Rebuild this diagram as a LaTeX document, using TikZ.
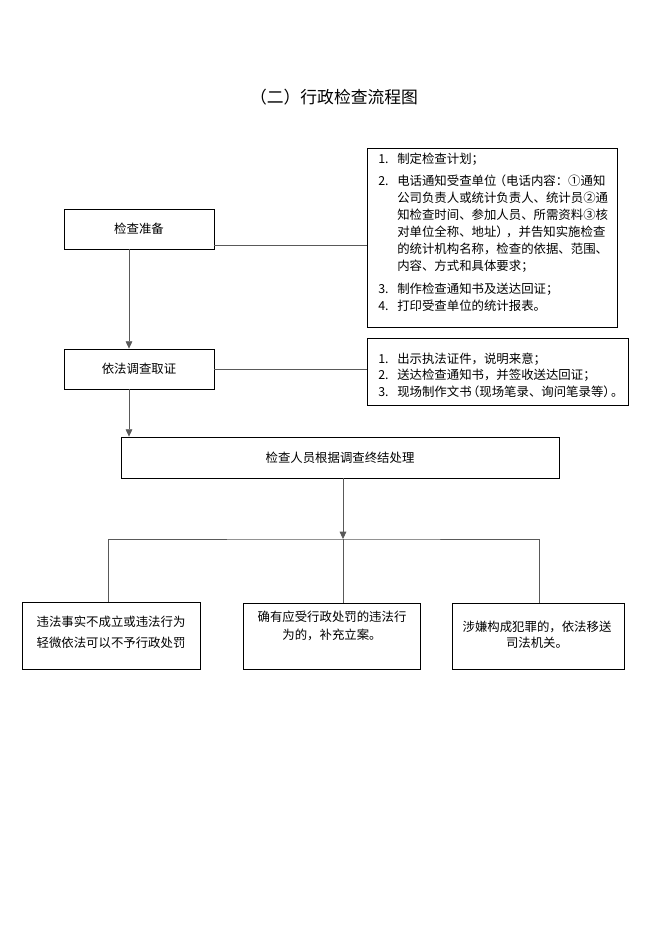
\documentclass[tikz,border=0pt]{standalone}
\usepackage{fontspec}
\setmainfont{Noto Sans CJK SC}
\usetikzlibrary{arrows.meta}
\begin{document}
\begin{tikzpicture}[x=0.75pt,y=-0.75pt,
  box/.style={draw=black, line width=0.6pt, inner sep=0, minimum width=#1},
  txt/.style={inner sep=0, font=\fontsize{9.3pt}{12.75pt}\selectfont},
  conn/.style={draw=black!65, line width=0.6pt},
  arr/.style={conn, -{Triangle[width=5pt,length=5.5pt]}}]
\fill[white] (0,0) rectangle (662,936);
\useasboundingbox (0,0) rectangle (662,936);
% title
\node[inner sep=0, font=\fontsize{12.6pt}{15pt}\selectfont] (title) at (334,97) {（二）行政检查流程图};
% left column
\node[box=112.5pt, minimum height=30pt, txt] (prep) at (139,229) {检查准备};
\node[box=112.5pt, minimum height=30pt, txt] (inv) at (139,369) {依法调查取证};
\node[box=328.5pt, minimum height=30.75pt, txt] (final) at (340,457.5) {检查人员根据调查终结处理};
% right boxes
\node[box=187.5pt, minimum height=134.25pt] (r1) at (492,237.5) {};
\node[txt, anchor=west] (r1t) at (378,234) {%
\begin{tabular}{@{}p{14.25pt}@{}l@{}}
1. & 制定检查计划；\\[3.75pt]
2. & 电话通知受查单位\kern-2pt（电话内容：①通知\\
 & 公司负责人或统计负责人、统计员②通\\
 & 知检查时间、参加人员、所需资料③核\\
 & 对单位全称、地址）\kern-2pt，并告知实施检查\\
 & 的统计机构名称，检查的依据、范围、\\
 & 内容、方式和具体要求；\\[4.5pt]
3. & 制作检查通知书及送达回证；\\
4. & 打印受查单位的统计报表。
\end{tabular}};
\node[box=195.75pt, minimum height=50.25pt] (r2) at (497.5,371.5) {};
\node[txt, anchor=west, font=\fontsize{9.3pt}{12.4pt}\selectfont] (r2t) at (378,376.5) {%
\begin{tabular}{@{}p{14.25pt}@{}l@{}}
1. & 出示执法证件，说明来意；\\
2. & 送达检查通知书，并签收送达回证；\\
3. & 现场制作文书\kern-3.5pt（现场笔录、询问笔录等）\kern-3.5pt。
\end{tabular}};
% bottom boxes
\node[box=133.5pt, minimum height=50.25pt] (b1) at (111,635.5) {};
\node[txt, align=center, font=\fontsize{9.3pt}{15.75pt}\selectfont] (b1t) at (111,632.5) {违法事实不成立或违法行为\\轻微依法可以不予行政处罚};
\node[box=132.75pt, minimum height=49.5pt] (b2) at (331.5,636) {};
\node[txt, align=center, font=\fontsize{9.3pt}{13.5pt}\selectfont] (b2t) at (332,626) {确有应受行政处罚的违法行\\为的，补充立案。};
\node[box=129pt, minimum height=49.5pt] (b3) at (538,636) {};
\node[txt, align=center, font=\fontsize{9.3pt}{12pt}\selectfont] (b3t) at (537,635) {涉嫌构成犯罪的，依法移送\\司法机关。};
% connectors
\draw[conn] ([yshift=-12pt]prep.east) -- ([yshift=-12pt]prep.east -| r1.west);
\draw[conn] (inv.east) -- (inv.east -| r2.west);
\draw[arr] ([xshift=-7.5pt]prep.south) -- ([xshift=-7.5pt]inv.north);
\draw[arr] ([xshift=-7.5pt]inv.south) -- ([xshift=-7.5pt]inv.south |- final.north);
\coordinate (j) at ([xshift=2.25pt]final.south |- 0,539);
\draw[arr] ([xshift=2.25pt]final.south) -- (j);
\draw[conn] ([xshift=-2.25pt]b1.north) |- (j) -| ([xshift=0.75pt]b3.north);
\draw[conn] (j) -- (j |- b2.north);
\end{tikzpicture}
\end{document}
